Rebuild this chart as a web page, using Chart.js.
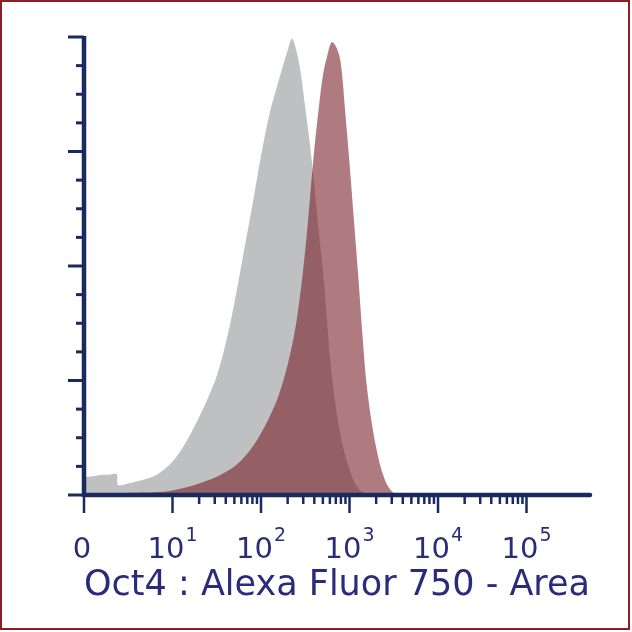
<!DOCTYPE html>
<html>
<head>
<meta charset="utf-8">
<script src="https://cdn.jsdelivr.net/npm/chart.js@4"></script>
<style>
  html, body { margin: 0; padding: 0; background: #fff; }
  #frame { width: 630px; height: 630px; box-sizing: border-box; border: 2px solid #8b2024; }
  canvas { display: block; }
</style>
</head>
<body>
<div id="frame"><canvas id="histo" width="626" height="626"></canvas></div>
<script>
// x positions are in display decades of the logicle axis (0, 10^1 ... 10^5 at 0..5)
const greyPos = [0, 0.1, 0.2, 0.3, 0.37, 0.385, 0.5, 0.6, 0.7, 0.8, 0.9, 1.0, 1.1, 1.2, 1.3, 1.4, 1.5, 1.6, 1.7, 1.8, 1.9, 2.0, 2.1, 2.2, 2.3, 2.35, 2.4, 2.45, 2.5, 2.55, 2.6, 2.65, 2.7, 2.75, 2.8, 2.9, 3.0, 3.1, 3.2, 3.3];
const greyVal = [3.9, 4.1, 4.4, 4.5, 4.6, 2.2, 2.5, 3.0, 3.5, 4.2, 5.5, 7.3, 9.9, 13.2, 17, 21.2, 26, 33, 42, 52.5, 63, 74, 83.5, 90.5, 97, 99.6, 97, 92, 84.5, 77, 68, 58, 49, 37, 26, 13, 5.5, 1.4, 0.2, 0];

const oct4Pos = [0.38, 0.45, 0.6, 0.8, 0.9, 1.0, 1.1, 1.2, 1.3, 1.4, 1.5, 1.6, 1.7, 1.8, 1.9, 2.0, 2.1, 2.2, 2.3, 2.4, 2.5, 2.6, 2.65, 2.7, 2.75, 2.8, 2.85, 2.9, 2.95, 3.0, 3.05, 3.1, 3.15, 3.2, 3.3, 3.4, 3.5, 3.6];
const oct4Val = [0, 0.4, 0.5, 0.6, 0.7, 1.0, 1.4, 1.9, 2.5, 3.2, 4.0, 5.0, 6.2, 8.0, 10.4, 13.5, 17.2, 21.8, 28.4, 37.8, 53.5, 75, 84, 91.7, 96, 98.9, 97.8, 94.5, 84, 72.5, 60, 47.5, 34, 23, 10.5, 3.3, 0.4, 0];

const decadeLabels = ["0", "1", "2", "3", "4", "5"];
const yMajor = [0, 25, 50, 75, 100];
const axisTitle = "Oct4 : Alexa Fluor 750 - Area";

const axisColor = "#1b2a5e";
const textColor = "#2a2b7b";
const font = "'DejaVu Sans', Verdana, sans-serif";

function toPoints(xs, ys) {
    return xs.map((x, i) => ({ x: x, y: ys[i] }));
}

const cytoAxes = {
    id: "cytoAxes",
    afterDatasetsDraw(chart) {
        const ctx = chart.ctx;
        const xs = chart.scales.x;
        const ys = chart.scales.y;
        const x0 = xs.getPixelForValue(0);
        const yb = ys.getPixelForValue(0);
        const yt = ys.getPixelForValue(100);
        ctx.save();
        ctx.strokeStyle = axisColor;
        ctx.lineCap = "butt";

        // y ticks
        ctx.lineWidth = 3;
        for (let v = 0; v <= 100; v += 6.25) {
            const py = ys.getPixelForValue(v);
            const len = yMajor.includes(v) ? 16 : 8;
            ctx.beginPath();
            ctx.moveTo(x0 - len, py);
            ctx.lineTo(x0, py);
            ctx.stroke();
        }

        // x ticks
        ctx.lineWidth = 2.5;
        for (let d = 0; d <= 5; d++) {
            const px = xs.getPixelForValue(d);
            ctx.beginPath();
            ctx.moveTo(px, yb);
            ctx.lineTo(px, yb + 18);
            ctx.stroke();
            if (d >= 1 && d <= 4) {
                for (let k = 2; k <= 9; k++) {
                    const mx = xs.getPixelForValue(d + Math.log10(k));
                    ctx.beginPath();
                    ctx.moveTo(mx, yb);
                    ctx.lineTo(mx, yb + 9);
                    ctx.stroke();
                }
            }
        }

        // axis lines
        ctx.lineWidth = 4.5;
        ctx.beginPath();
        ctx.moveTo(x0, yt - 1);
        ctx.lineTo(x0, yb + 2);
        ctx.stroke();
        ctx.lineCap = "round";
        ctx.beginPath();
        ctx.moveTo(x0, yb);
        ctx.lineTo(xs.getPixelForValue(xs.max) - 2, yb);
        ctx.stroke();

        // tick labels
        ctx.fillStyle = textColor;
        ctx.textBaseline = "alphabetic";
        ctx.textAlign = "left";
        decadeLabels.forEach((lab, d) => {
            const px = xs.getPixelForValue(d);
            ctx.font = "29px " + font;
            if (lab === "0") {
                const w = ctx.measureText("0").width;
                ctx.fillText("0", px - w / 2 - 2, yb + 63);
                return;
            }
            const wb = ctx.measureText("10").width;
            ctx.font = "19px " + font;
            const we = ctx.measureText(lab).width;
            const left = px - (wb + we + 1) / 2;
            ctx.font = "29px " + font;
            ctx.fillText("10", left, yb + 63);
            ctx.font = "19px " + font;
            ctx.fillText(lab, left + wb + 1, yb + 46);
        });

        // axis title
        ctx.font = "35px " + font;
        ctx.textAlign = "center";
        ctx.fillText(axisTitle, 335, yb + 100);
        ctx.restore();
    }
};

new Chart(document.getElementById("histo"), {
    type: "line",
    data: {
        datasets: [
            {
                label: "Oct4",
                data: toPoints(oct4Pos, oct4Val),
                backgroundColor: "rgba(115, 20, 28, 0.56)",
                borderWidth: 0,
                fill: "origin",
                pointRadius: 0,
                tension: 0.35,
                order: 0
            },
            {
                label: "Unstained",
                data: toPoints(greyPos, greyVal),
                backgroundColor: "#bfc0c2",
                borderWidth: 0,
                fill: "origin",
                pointRadius: 0,
                tension: 0.35,
                order: 1
            }
        ]
    },
    options: {
        responsive: false,
        animation: false,
        layout: { padding: { left: 82, top: 35, right: 36, bottom: 133 } },
        scales: {
            x: { type: "linear", min: 0, max: 5.74, display: false },
            y: { min: 0, max: 100, display: false }
        },
        plugins: {
            legend: { display: false },
            tooltip: { enabled: false }
        }
    },
    plugins: [cytoAxes]
});
</script>
</body>
</html>
